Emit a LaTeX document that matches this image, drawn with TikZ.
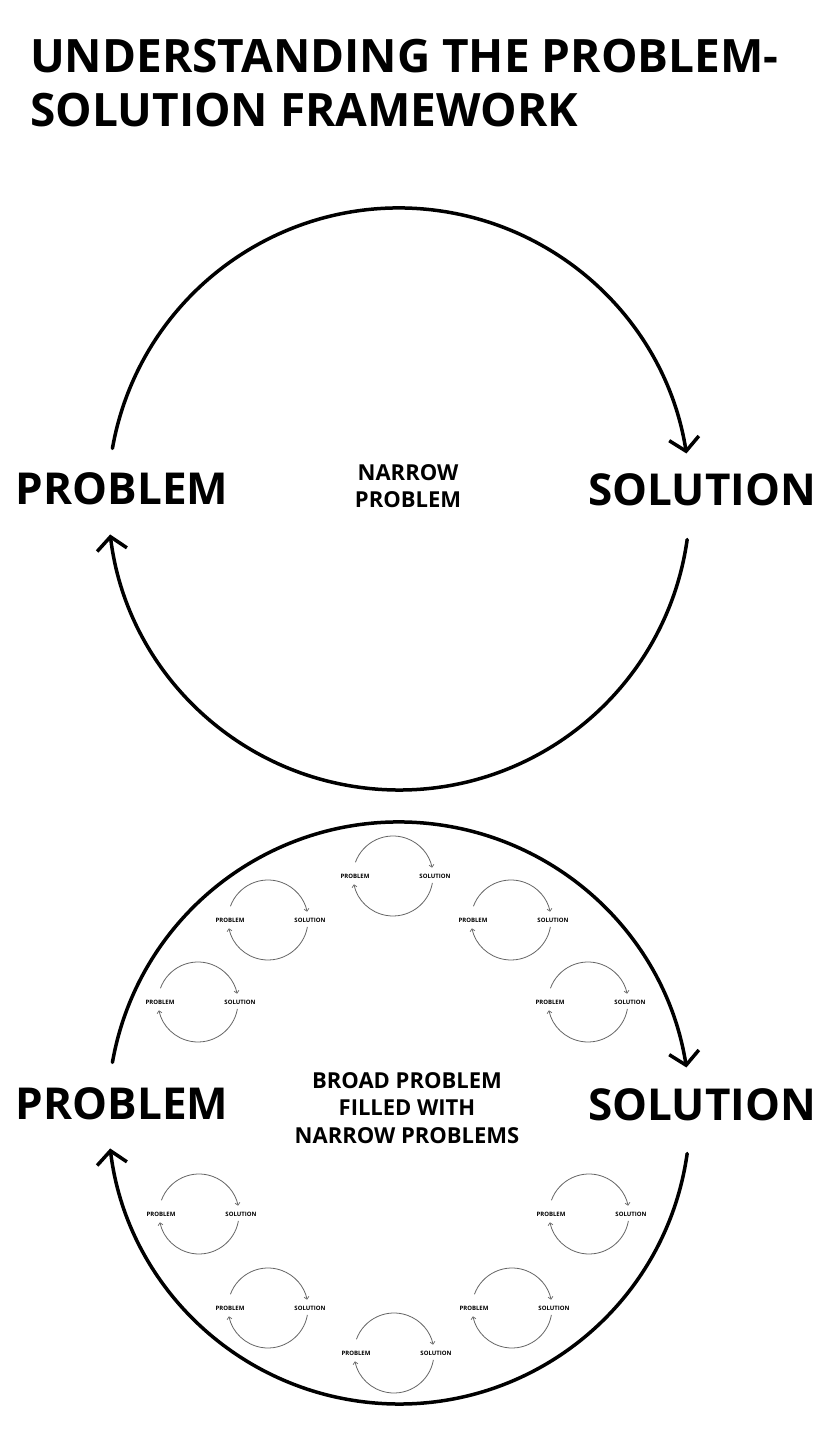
\documentclass[tikz,border=0pt]{standalone}
\usepackage{fontspec}
\setmainfont{Open Sans}
\usetikzlibrary{arrows.meta}

\begin{document}
\begin{tikzpicture}[
    x=1pt, y=1pt,
    font=\bfseries,
    bigarc/.style={line width=3.5pt, line cap=round,
        -{Straight Barb[length=13pt, width=30pt, line width=3.5pt]}},
    smallarc/.style={line width=0.8pt, draw=black!60,
        -{Straight Barb[length=2.5pt, width=5pt, line width=0.7pt]}},
    biglabel/.style={font=\fontsize{44}{50}\selectfont\bfseries},
    midtext/.style={font=\fontsize{22}{27.5}\selectfont\bfseries, align=center},
    smalllabel/.style={font=\fontsize{6}{7}\selectfont\bfseries, inner sep=0pt},
    titletext/.style={font=\fontsize{46}{54}\selectfont\bfseries, anchor=base west, inner sep=0pt}
]
\useasboundingbox[fill=white] (0,0) rectangle (834,1440);

% title
\node[titletext] (t1) at (30,1367) {UNDERSTANDING THE PROBLEM-};
\node[titletext] (t2) at (30,1313) {SOLUTION FRAMEWORK};

% narrow problem cycle
\coordinate (o1) at (399,941);
\draw[bigarc] ([shift={(170:291)}]o1) arc[start angle=170, end angle=9, radius=291];
\draw[bigarc] ([shift={(-8:291)}]o1) arc[start angle=-8, end angle=-173, radius=291];
\node[biglabel] (p1) at (122,951) {PROBLEM};
\node[biglabel] (s1) at (702,950) {SOLUTION};
\node[midtext] (c1) at (408,954) {NARROW\\PROBLEM};

% broad problem cycle
\coordinate (o2) at (399,327);
\draw[bigarc] ([shift={(170:291)}]o2) arc[start angle=170, end angle=9, radius=291];
\draw[bigarc] ([shift={(-8:291)}]o2) arc[start angle=-8, end angle=-173, radius=291];
\node[biglabel] (p2) at (122,336) {PROBLEM};
\node[biglabel] (s2) at (702,335) {SOLUTION};
\node[midtext] (c2) at (407,332) {BROAD PROBLEM\\FILLED WITH\\NARROW PROBLEMS};

% narrow problems inside the broad one
\foreach \i/\cx/\cy in {1/393/564, 2/268/520, 3/511/520, 4/198/438, 5/588/438,
                        6/199/226, 7/589/226, 8/268/132, 9/512/132, 10/394/87} {
    \coordinate (m\i) at (\cx,\cy);
    \draw[smallarc] ([shift={(160:40)}]m\i) arc[start angle=160, end angle=12, radius=40];
    \draw[smallarc] ([shift={(-10:40)}]m\i) arc[start angle=-10, end angle=-168, radius=40];
    \node[smalllabel] (mp\i) at ([xshift=-38pt]m\i) {PROBLEM};
    \node[smalllabel] (ms\i) at ([xshift=42pt]m\i) {SOLUTION};
}
\end{tikzpicture}
\end{document}
